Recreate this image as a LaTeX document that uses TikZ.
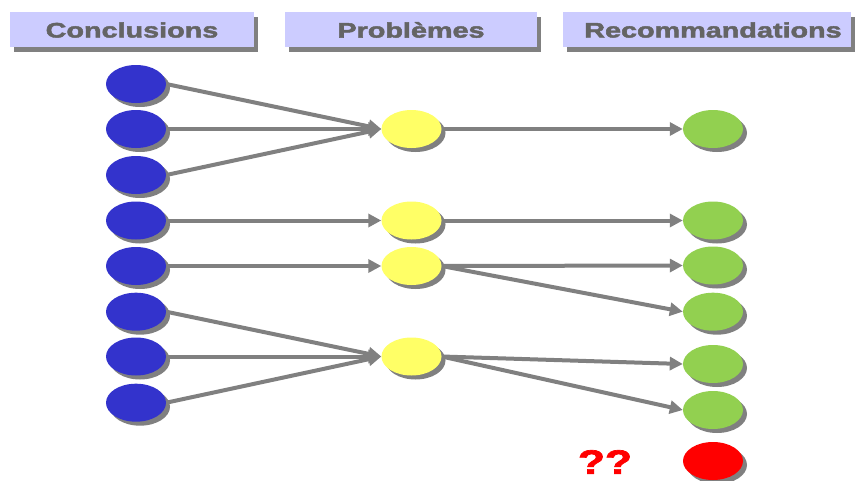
\documentclass[tikz,border=0pt]{standalone}
\usepackage{fontspec}
\usepackage{graphicx}
\newfontfamily\hfont[FakeBold=2]{Liberation Sans}
\usetikzlibrary{shapes.geometric,shadows,arrows.meta}
\definecolor{hdrbg}{RGB}{204,204,255}
\definecolor{hdrtxt}{RGB}{100,100,100}
\definecolor{shd}{RGB}{128,128,128}
\definecolor{cblue}{RGB}{51,51,204}
\definecolor{cyellow}{RGB}{255,255,102}
\definecolor{cgreen}{RGB}{146,208,80}
\definecolor{cred}{RGB}{255,0,0}
\tikzset{
  hdr/.style={fill=hdrbg, draw=none, inner sep=0pt,
    drop shadow={shadow xshift=4pt, shadow yshift=-5pt, fill=shd, opacity=1}},
  hdrtext/.style={font=\hfont\bfseries\fontsize{21}{21}\selectfont, text=hdrtxt, inner sep=0pt},
  dot/.style={ellipse, minimum width=60pt, minimum height=38pt, inner sep=0pt, draw=none,
    drop shadow={shadow xshift=4pt, shadow yshift=-4pt, fill=shd, opacity=1}},
  bdot/.style={dot, fill=cblue},
  ydot/.style={dot, fill=cyellow},
  gdot/.style={dot, fill=cgreen},
  rdot/.style={dot, fill=cred},
  arr/.style={draw=shd, line width=4pt, -{Triangle[length=13pt,width=13pt]}, shorten <=1pt},
}
\begin{document}
\begin{tikzpicture}[x=1pt,y=-1pt]
\useasboundingbox (0,0) rectangle (855,480);
% headers
\path[hdr] (10,12) rectangle (254,47);
\path[hdr] (285,12) rectangle (537,47);
\path[hdr] (563,12) rectangle (851,47);
\node[hdrtext] (h1) at (132,30) {\scalebox{1.37}[1]{Conclusions}};
\node[hdrtext] (h2) at (411,30) {\scalebox{1.37}[1]{Problèmes}};
\node[hdrtext] (h3) at (713,30) {\scalebox{1.37}[1]{Recommandations}};
% conclusions
\node[bdot] (b1) at (136,84) {};
\node[bdot] (b2) at (136,129) {};
\node[bdot] (b3) at (136,175) {};
\node[bdot] (b4) at (136,220.5) {};
\node[bdot] (b5) at (136,266) {};
\node[bdot] (b6) at (136,311.7) {};
\node[bdot] (b7) at (136,356.5) {};
\node[bdot] (b8) at (136,402.7) {};
% problemes
\node[ydot] (y1) at (411.5,129) {};
\node[ydot] (y2) at (411.5,220.5) {};
\node[ydot] (y3) at (411.5,266) {};
\node[ydot] (y4) at (411.5,356.5) {};
% recommandations
\node[gdot] (g1) at (713,129) {};
\node[gdot] (g2) at (713,220.5) {};
\node[gdot] (g3) at (713,265.5) {};
\node[gdot] (g4) at (713,311.7) {};
\node[gdot] (g5) at (713,364) {};
\node[gdot] (g6) at (713,410) {};
\node[rdot] (r1) at (713,461) {};
\node[font=\hfont\bfseries\fontsize{34}{34}\selectfont, text=cred, inner sep=0pt] (q) at (605,462) {\scalebox{1.3}[1]{??}};
% arrows
\draw[arr] (b1.east) -- (y1.west);
\draw[arr] (b2.east) -- (y1.west);
\draw[arr] (b3.east) -- (y1.west);
\draw[arr] (b4.east) -- (y2.west);
\draw[arr] (b5.east) -- (y3.west);
\draw[arr] (b6.east) -- (y4.west);
\draw[arr] (b7.east) -- (y4.west);
\draw[arr] (b8.east) -- (y4.west);
\draw[arr] (y1.east) -- (g1.west);
\draw[arr] (y2.east) -- (g2.west);
\draw[arr] (y3.east) -- (g3.west);
\draw[arr] (y3.east) -- (g4.west);
\draw[arr] (y4.east) -- (g5.west);
\draw[arr] (y4.east) -- (g6.west);
\end{tikzpicture}
\end{document}
